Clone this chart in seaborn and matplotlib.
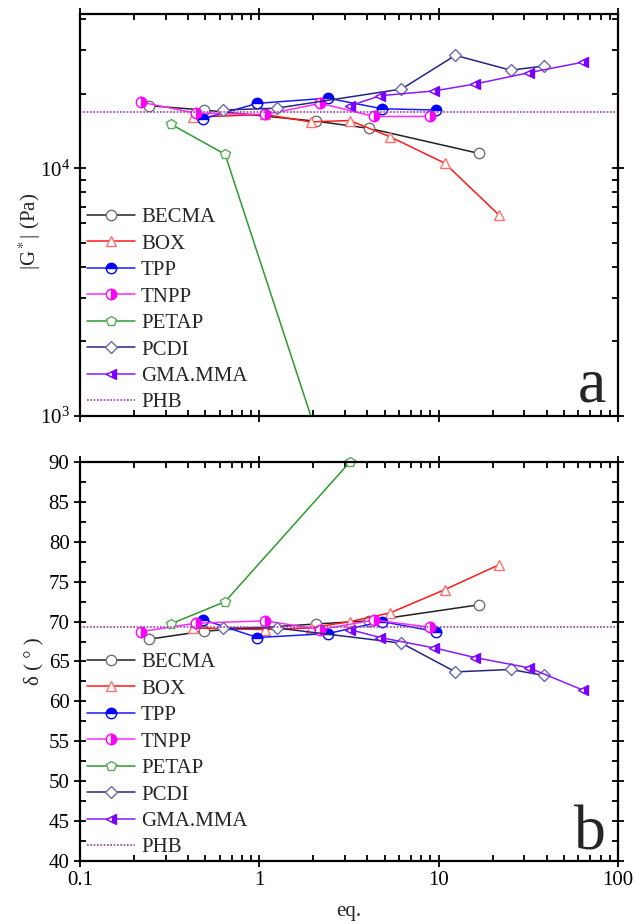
import seaborn as sns
import matplotlib.pyplot as plt
import numpy as np
import pandas as pd
from matplotlib.ticker import LogLocator, NullFormatter, MultipleLocator


# Stil grafic

sns.set_theme(style="ticks")
plt.rcParams["font.family"] = ["Liberation Serif", "DejaVu Serif"]
plt.rcParams["mathtext.fontset"] = "stix"


# Date (eq., |G*| in Pa, delta in grade)

x_becma = [0.243, 0.49, 2.07, 4.11, 16.7]
g_becma = [17900, 17200, 15500, 14500, 11500]
d_becma = [67.8, 68.8, 69.7, 70.1, 72.1]

x_box = [0.426, 1.08, 1.93, 3.2, 5.37, 10.8, 21.6]
g_box = [16100, 16500, 15400, 15600, 13400, 10500, 6500]
d_box = [69.2, 69.0, 69.2, 70.0, 71.1, 74.0, 77.1]

x_tpp = [0.485, 0.975, 2.41, 4.84, 9.68]
g_tpp = [15850, 18300, 19200, 17400, 17200]
d_tpp = [70.25, 68.0, 68.5, 70.0, 68.75]

x_tnpp = [0.22, 0.442, 1.08, 2.19, 4.35, 8.95]
g_tnpp = [18500, 16700, 16500, 18300, 16200, 16200]
d_tnpp = [68.75, 69.8, 70.1, 69.0, 70.2, 69.3]

x_petap = [0.32, 0.644, 3.2]
g_petap = [15100, 11400, 330]
d_petap = [69.7, 72.5, 90.0]

x_pcdi = [0.629, 1.25, 6.2, 12.4, 25.2, 38.6]
g_pcdi = [17200, 17500, 20900, 28600, 24900, 25900]
d_pcdi = [69.2, 69.2, 67.3, 63.7, 64.0, 63.25]

x_gma = [3.2, 4.73, 9.46, 15.9, 32.0, 64.0]
g_gma = [17900, 19650, 20550, 21900, 24350, 26850]
d_gma = [69.0, 68.0, 66.7, 65.5, 64.2, 61.4]

phb_g = 16860
phb_d = 69.3


# Stil pentru fiecare serie: nume, x, G*, delta, culoare linie, culoare marker, marker, fillstyle

serii = [
    ("BECMA", x_becma, g_becma, d_becma, "#222222", "#707070", "o", "none"),
    ("BOX", x_box, g_box, d_box, "#ff1a1a", "#ff7070", "^", "none"),
    ("TPP", x_tpp, g_tpp, d_tpp, "#1a1aff", "#0000ff", "o", "top"),
    ("TNPP", x_tnpp, g_tnpp, d_tnpp, "#ff2bff", "#ff00ff", "o", "right"),
    ("PETAP", x_petap, g_petap, d_petap, "#2e9a2e", "#5aaa5a", "p", "none"),
    ("PCDI", x_pcdi, g_pcdi, d_pcdi, "#262680", "#6a6aaa", "D", "none"),
    ("GMA.MMA", x_gma, g_gma, d_gma, "#8a1aff", "#7a00ff", "<", "right"),
]

fig = plt.figure(figsize=(6.37, 9.24), dpi=100)
ax1 = fig.add_axes([80 / 637, 1 - 416 / 924, 538 / 637, 402 / 924])
ax2 = fig.add_axes([80 / 637, 1 - 861 / 924, 538 / 637, 399 / 924])

for nume, x, g, d, cl, cm, mk, fs in serii:
    df = pd.DataFrame({"eq": x, "G": g, "delta": d})
    ms = 7.5 if mk != "D" else 6.5
    for ax, col in ((ax1, "G"), (ax2, "delta")):
        if fs == "none":
            stil = dict(markerfacecolor="white", markeredgecolor=cm)
        else:
            stil = dict(markerfacecolor=cm, markerfacecoloralt="white",
                        markeredgecolor=cm, fillstyle=fs)
        clip = not (nume == "PETAP" and col == "delta")
        sns.lineplot(data=df, x="eq", y=col, ax=ax, color=cl, marker=mk,
                     markersize=ms, markeredgewidth=1.0, linewidth=1.1,
                     label=nume, clip_on=clip, estimator=None, **stil)

ax1.axhline(phb_g, color="#a03ca8", linestyle=(0, (1, 1)), linewidth=1.2, label="PHB")
ax2.axhline(phb_d, color="#a03ca8", linestyle=(0, (1, 1)), linewidth=1.2, label="PHB")


# Axe

for ax in (ax1, ax2):
    ax.set_xscale("log")
    ax.set_xlim(0.1, 100)
    ax.set_xticks([0.1, 1, 10, 100], labels=["0.1", "1", "10", "100"])
    ax.xaxis.set_minor_locator(LogLocator(base=10, subs=np.arange(2, 10)))
    ax.xaxis.set_minor_formatter(NullFormatter())
    ax.tick_params(which="both", labelsize=15, width=1.3,
                   top=True, right=True, colors="black")
    ax.tick_params(which="major", direction="inout", length=8)
    ax.tick_params(which="minor", direction="in", length=4)
    for s in ax.spines.values():
        s.set_linewidth(1.6)
        s.set_color("black")
    ax.legend(loc="lower left", bbox_to_anchor=(-0.003, -0.012), frameon=False,
              fontsize=15, handlelength=2.3, handletextpad=0.3,
              labelspacing=0.33, borderaxespad=0.0)

ax1.set_yscale("log")
ax1.set_ylim(1000, 42000)
ax1.set_yticks([1000, 10000])
ax1.yaxis.set_minor_locator(LogLocator(base=10, subs=np.arange(2, 10)))
ax1.yaxis.set_minor_formatter(NullFormatter())
ax1.tick_params(axis="x", labelbottom=False)
ax1.set_xlabel("")
ax1.set_ylabel("|G$^*$| (Pa)", fontsize=15)
ax1.yaxis.set_label_coords(-0.068, 0.46)

ax2.set_ylim(40, 90)
ax2.yaxis.set_major_locator(MultipleLocator(5))
ax2.yaxis.set_minor_locator(MultipleLocator(2.5))
ax2.set_ylabel("δ ( ° )", fontsize=15)
ax2.yaxis.set_label_coords(-0.068, 0.5)
ax2.set_xlabel("eq.", fontsize=15, labelpad=8)

ax1.text(0.978, 0.035, "a", transform=ax1.transAxes, fontsize=46,
         ha="right", va="baseline")
ax2.text(0.978, 0.03, "b", transform=ax2.transAxes, fontsize=46,
         ha="right", va="baseline")

fig.savefig("out.png", dpi=100)
